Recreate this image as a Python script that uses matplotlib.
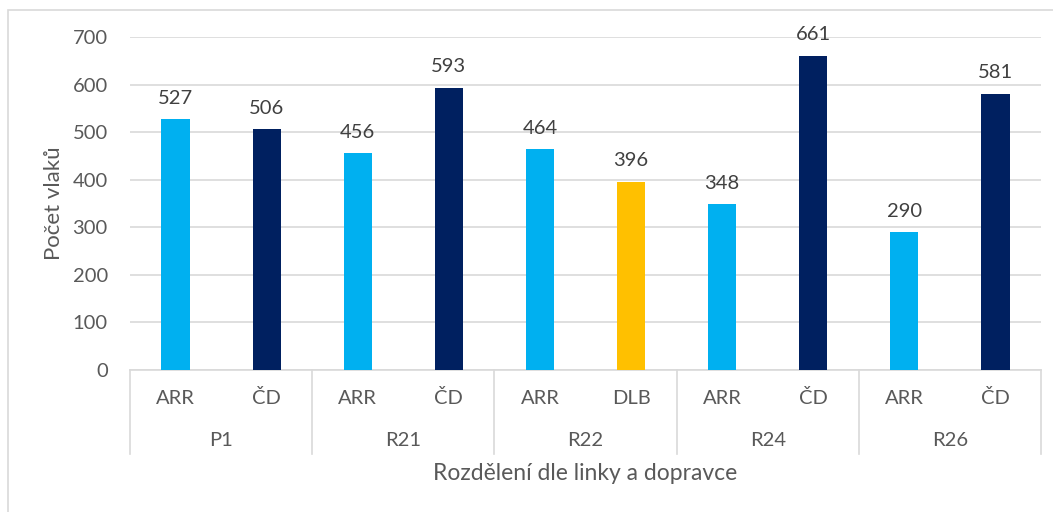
import matplotlib
matplotlib.use("Agg")
import matplotlib.pyplot as plt
import matplotlib.transforms as mtransforms
from matplotlib.patches import Rectangle

plt.rcParams['font.family'] = ['Lato', 'DejaVu Sans']

groups = ["P1", "R21", "R22", "R24", "R26"]
carriers = ["ARR", "ČD", "ARR", "ČD", "ARR", "DLB", "ARR", "ČD", "ARR", "ČD"]
values = [527, 506, 456, 593, 464, 396, 348, 661, 290, 581]
carrier_colors = {"ARR": "#00B0F0", "ČD": "#002060", "DLB": "#FFC000"}
yticks = [0, 100, 200, 300, 400, 500, 600, 700]

text_color = "#595959"
grid_color = "#D9D9D9"

fig = plt.figure(figsize=(10.53, 5.12), dpi=100)
W, H = 1053, 512
fig.patches.append(Rectangle((8 / W, -0.1), 1.2, 1 - 10 / H + 0.1,
                             transform=fig.transFigure, fill=False,
                             edgecolor="#D9D9D9", linewidth=1.2))

ax = fig.add_axes([130 / W, 1 - 370 / H, (1041 - 130) / W, (370 - 37) / H])
x = list(range(len(values)))
colors = [carrier_colors[c] for c in carriers]
bars = ax.bar(x, values, width=0.31, color=colors, zorder=3)

ax.set_xlim(-0.5, len(values) - 0.5)
ax.set_ylim(0, 700)
ax.set_yticks(yticks)
ax.set_yticklabels([str(t) for t in yticks], fontsize=14.5, color=text_color)
ax.tick_params(axis='y', length=0, pad=16)
ax.set_xticks([])
ax.yaxis.grid(True, color=grid_color, linewidth=1.2, zorder=0)
for s in ["top", "right", "left"]:
    ax.spines[s].set_visible(False)
ax.spines["bottom"].set_color(grid_color)
ax.spines["bottom"].set_linewidth(1.2)

for xi, v in zip(x, values):
    ax.annotate(str(v), (xi, v), xytext=(0, 9), textcoords="offset points",
                ha="center", va="bottom", fontsize=14.5, color="#404040")

trans = mtransforms.blended_transform_factory(ax.transData, ax.transAxes)
axh = 370 - 37
for i in range(len(groups) + 1):
    xb = -0.5 + 2 * i
    ax.plot([xb, xb], [0, -84 / axh], transform=trans, color=grid_color,
            linewidth=1.2, clip_on=False)

for xi, c in zip(x, carriers):
    ax.text(xi, -28 / axh, c, transform=trans, ha="center", va="center",
            fontsize=14.5, color=text_color)
for gi, g in enumerate(groups):
    ax.text(2 * gi + 0.5, -71 / axh, g, transform=trans, ha="center", va="center",
            fontsize=14.5, color=text_color)

fig.text((130 + 1041) / 2 / W, 1 - 474 / H, "Rozdělení dle linky a dopravce",
         ha="center", va="center", fontsize=16.5, color=text_color)
fig.text(54 / W, 1 - 203 / H, "Počet vlaků", rotation=90, ha="center", va="center",
         fontsize=16, color=text_color)

fig.savefig("out.png", dpi=100)
